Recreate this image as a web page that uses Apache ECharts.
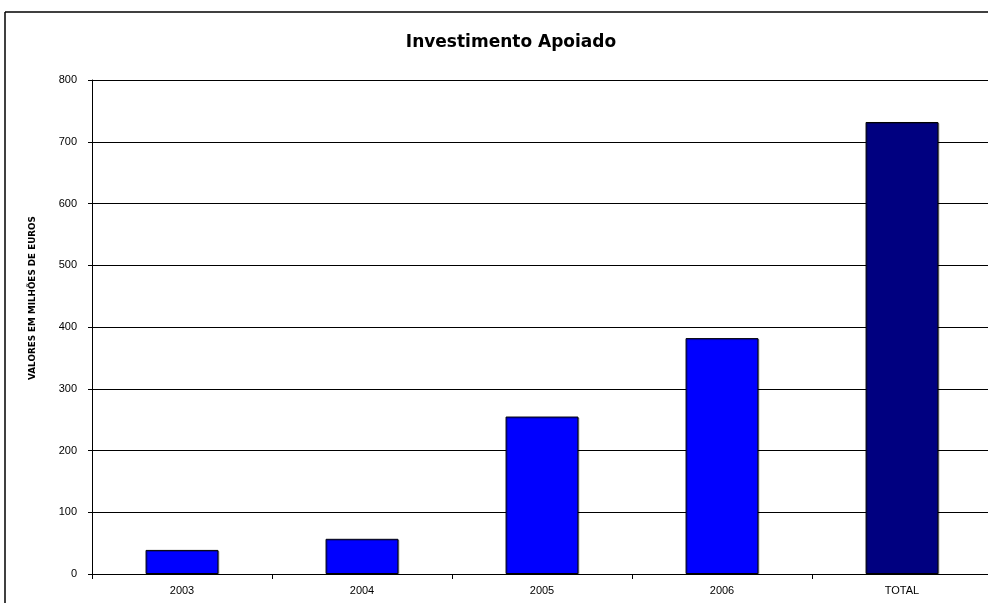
<!DOCTYPE html>
<html><head><meta charset="utf-8">
<script src="https://cdn.jsdelivr.net/npm/echarts@6/dist/echarts.min.js"></script>
<style>html,body{margin:0;padding:0;background:#fff;overflow:hidden}#c{width:1000px;height:603px}</style>
</head><body><div id="c"></div>
<script>
var categories = ['2003','2004','2005','2006','TOTAL'];
var values = [39, 57, 255, 382, 732];
var barColors = ['#0000FF','#0000FF','#0000FF','#0000FF','#000080'];
var yTicks = [0,100,200,300,400,500,600,700,800];

var chart = echarts.init(document.getElementById('c'));
chart.setOption({
  animation:false,
  backgroundColor:'#fff',
  graphic:[
    {type:'line', shape:{x1:5,y1:12,x2:1000,y2:12}, style:{stroke:'#000',lineWidth:1.5}},
    {type:'line', shape:{x1:5,y1:12,x2:5,y2:603}, style:{stroke:'#000',lineWidth:1.5}},
    {type:'text', x:32.5, y:298, rotation:Math.PI/2,
     style:{text:'VALORES EM MILHÕES DE EUROS', font:'bold 8.8px "DejaVu Sans"', fill:'#000', align:'center', verticalAlign:'middle'}}
  ],
  title:{text:'Investimento Apoiado', left:506, top:29, textAlign:'center',
    textStyle:{fontFamily:'DejaVu Sans', fontWeight:'bold', fontSize:17, color:'#000'}},
  grid:{left:92, right:8, top:80, bottom:29, containLabel:false},
  xAxis:{type:'category', data:categories,
    axisLine:{lineStyle:{color:'#000',width:1}},
    axisTick:{show:true, alignWithLabel:false, length:5, lineStyle:{color:'#000'}},
    axisLabel:{color:'#000', fontFamily:'Liberation Sans', fontSize:11, margin:11}},
  yAxis:{type:'value', min:0, max:800, interval:100,
    axisLine:{show:true, lineStyle:{color:'#000',width:1}},
    axisTick:{show:true, length:4, lineStyle:{color:'#000'}},
    splitLine:{lineStyle:{color:'#000',width:1}},
    axisLabel:{color:'#000', fontFamily:'Liberation Sans', fontSize:11, margin:15}},
  series:[{type:'bar', barWidth:'40.5%',
    data: values.map(function(v,i){return {value:v, itemStyle:{color:barColors[i]}};}),
    itemStyle:{borderColor:'#000', borderWidth:1, shadowColor:'rgba(0,0,0,0.3)', shadowOffsetX:1, shadowOffsetY:1}}]
});
</script></body></html>
